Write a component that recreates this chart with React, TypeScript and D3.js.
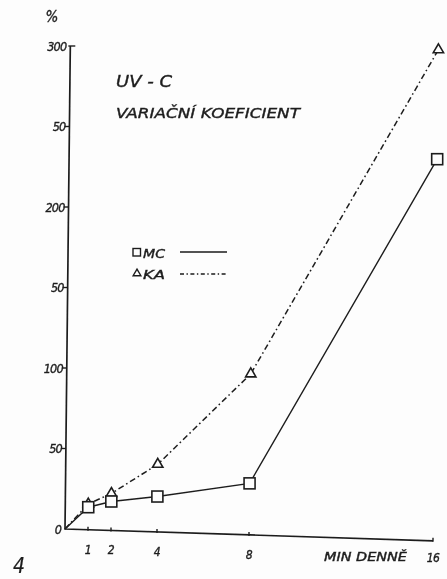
import React from "react";
import * as d3 from "d3";

// Exposure time (minutes per day) and coefficient of variation (%)
const minutes = [0, 1, 2, 4, 8, 16];
const mcValues = [0, 14, 18, 22, 32, 237];
const kaValues = [0, 16, 23, 42, 100, 305];

const yTicks = [0, 50, 100, 150, 200, 250, 300];
const yTickLabels = ["0", "50", "100", "50", "200", "50", "300"];
const xTicks = [1, 2, 4, 8, 16];
const xTickLabels = ["1", "2", "4", "8", "16"];

const W = 447;
const H = 579;
const INK = "#1e1e1e";
const PAPER = "#fdfdfd";
const FONT = "'DejaVu Sans Condensed', 'DejaVu Sans', sans-serif";

// hand-drawn axes are slightly sheared: baseline sinks to the right, vertical leans right
const ORIGIN: [number, number] = [65, 529];
const SHEAR_X = 0.032;
const SHEAR_Y = -0.011;

const x = d3.scaleLinear().domain([0, 16]).range([0, 368]);
const y = d3.scaleLinear().domain([0, 300]).range([0, -483]);

function pt(xv: number, yv: number): [number, number] {
  const lx = x(xv);
  const ly = y(yv);
  return [ORIGIN[0] + lx + SHEAR_Y * ly, ORIGIN[1] + SHEAR_X * lx + ly];
}

const lineGen = d3
  .line<[number, number]>()
  .x((d) => d[0])
  .y((d) => d[1]);

const triangle = d3.symbol(d3.symbolTriangle, 46);
const triangleSmall = d3.symbol(d3.symbolTriangle, 26);

const KA_DASH = "6,3,1.6,3";

// stencil lettering: slanted, with a little extra ink
const letter = {
  fontStyle: "italic" as const,
  fill: INK,
  stroke: INK,
  strokeWidth: 0.35,
};

export default function App() {
  const mcPts = minutes.map((m, i) => pt(m, mcValues[i]));
  const kaPts = minutes.map((m, i) => pt(m, kaValues[i]));
  const o = pt(0, 0);
  const yTop = pt(0, 300);
  const xEnd = pt(16, 0);

  return (
    <svg
      width={W}
      height={H}
      viewBox={`0 0 ${W} ${H}`}
      style={{ position: "absolute", left: 0, top: 0, background: PAPER }}
      fontFamily={FONT}
    >
      <defs>
        <filter id="soft" x="-5%" y="-5%" width="110%" height="110%">
          <feGaussianBlur stdDeviation={0.4} />
        </filter>
      </defs>
      <rect x={0} y={0} width={W} height={H} fill={PAPER} />

      <g filter="url(#soft)">
        {/* axes */}
        <path d={lineGen([yTop, o, xEnd])!} fill="none" stroke={INK} strokeWidth={1.7} />

        {/* y ticks and labels */}
        {yTicks.map((t, i) => {
          const p = pt(0, t);
          const top = t === 300;
          return (
            <g key={`yt${i}`}>
              {t !== 0 && (
                <line
                  x1={p[0] - (top ? 2 : 5)}
                  y1={p[1]}
                  x2={p[0] + (top ? 5 : 0)}
                  y2={p[1]}
                  stroke={INK}
                  strokeWidth={1.4}
                />
              )}
              <text x={p[0] - 4} y={p[1] + 4.5} textAnchor="end" fontSize={12.5} letterSpacing={-0.8} {...letter}>
                {yTickLabels[i]}
              </text>
            </g>
          );
        })}

        {/* x ticks and labels */}
        {xTicks.map((t, i) => {
          const p = pt(t, 0);
          return (
            <g key={`xt${i}`}>
              <line x1={p[0]} y1={p[1] - 3} x2={p[0]} y2={p[1] + 1} stroke={INK} strokeWidth={1.4} />
              <text x={p[0]} y={p[1] + (t === 16 ? 21 : 24)} textAnchor="middle" fontSize={12} letterSpacing={-0.6} {...letter}>
                {xTickLabels[i]}
              </text>
            </g>
          );
        })}

        <text x={324} y={561} fontSize={11.5} textLength={83} lengthAdjust="spacingAndGlyphs" {...letter}>
          MIN DENNĚ
        </text>

        {/* unit label */}
        <text x={52} y={22} textAnchor="middle" fontSize={15} {...letter}>
          %
        </text>

        {/* title */}
        <text x={116} y={87} fontSize={16} textLength={56} lengthAdjust="spacingAndGlyphs" {...letter}>
          UV - C
        </text>
        <text x={116} y={118} fontSize={14.5} textLength={184} lengthAdjust="spacingAndGlyphs" {...letter}>
          VARIAČNÍ KOEFICIENT
        </text>

        {/* panel number */}
        <text x={13} y={573} fontSize={21} {...letter} strokeWidth={0.2}>
          4
        </text>

        {/* legend */}
        <rect x={133} y={248.5} width={7.5} height={7.5} fill="none" stroke={INK} strokeWidth={1.4} />
        <text x={143} y={257.5} fontSize={12} textLength={22} lengthAdjust="spacingAndGlyphs" {...letter}>
          MC
        </text>
        <line x1={180} y1={252} x2={227} y2={252} stroke={INK} strokeWidth={1.4} />
        <path d={triangleSmall()!} transform="translate(137,273.5)" fill="none" stroke={INK} strokeWidth={1.4} />
        <text x={143} y={278.5} fontSize={12} textLength={22} lengthAdjust="spacingAndGlyphs" {...letter}>
          KA
        </text>
        <line x1={180} y1={274} x2={227} y2={274} stroke={INK} strokeWidth={1.4} strokeDasharray="4,2.5,1.4,2.5" />

        {/* series lines */}
        <path d={lineGen(kaPts)!} fill="none" stroke={INK} strokeWidth={1.5} strokeDasharray={KA_DASH} />
        <path d={lineGen(mcPts)!} fill="none" stroke={INK} strokeWidth={1.4} />

        {/* markers */}
        {kaPts.slice(1).map((p, i) => (
          <path
            key={`ka${i}`}
            d={triangle()!}
            transform={`translate(${p[0]},${p[1]})`}
            fill={PAPER}
            stroke={INK}
            strokeWidth={1.6}
          />
        ))}
        {mcPts.slice(1).map((p, i) => (
          <rect
            key={`mc${i}`}
            x={p[0] - 5.5}
            y={p[1] - 5.5}
            width={11}
            height={11}
            fill={PAPER}
            stroke={INK}
            strokeWidth={1.6}
          />
        ))}
      </g>
    </svg>
  );
}
